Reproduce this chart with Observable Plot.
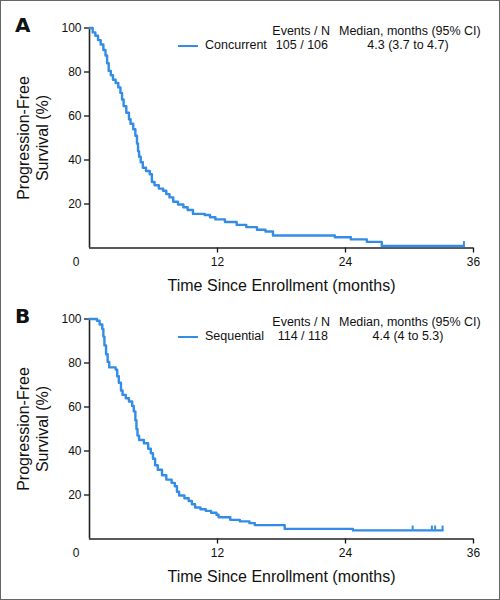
<!DOCTYPE html>
<html><head><meta charset="utf-8">
<script src="https://cdn.jsdelivr.net/npm/d3@7"></script>
<script src="https://cdn.jsdelivr.net/npm/@observablehq/plot@0.6"></script>
<style>
body{margin:0;background:#fff;}
#wrap{position:relative;width:500px;height:600px;box-sizing:border-box;border:1px solid #666;overflow:hidden;font-family:"Liberation Sans",Arial,sans-serif;color:#111;}
.panel{position:absolute;left:-1px;width:500px;}
.letter{position:absolute;left:15px;top:15px;font-family:"DejaVu Sans",sans-serif;font-weight:bold;font-size:20px;line-height:20px;}
.leg{position:absolute;font-size:12.5px;line-height:14px;white-space:nowrap;}
.sw{position:absolute;left:178px;width:20px;height:2.6px;}
</style></head><body><div id="wrap"></div>
<script>
// ---- data ----
const panels = ["A", "B"];
const groups = ["Concurrent", "Sequential"];
const eventsN = ["105 / 106", "114 / 118"];
const medians = ["4.3 (3.7 to 4.7)", "4.4 (4 to 5.3)"];

// Kaplan-Meier step points: time (months), PFS (%)
const concTime = [0,0.3,0.55,0.8,1.05,1.3,1.5,1.65,1.8,2.0,2.2,2.45,2.7,2.9,3.05,3.2,3.45,3.7,3.85,4.1,4.3,4.45,4.55,4.65,4.8,5.0,5.3,5.65,5.85,6.1,6.5,6.9,7.2,7.5,7.85,8.3,8.8,9.2,9.7,10.8,11.3,11.8,12.7,13.8,14.7,15.7,16.5,17.2,23.0,24.5,26.0,27.4,35.1];
const concSurv = [100,98,96.5,94.5,92.5,90,87.5,84,80.5,78.5,76.5,75,73,70.5,67.5,64.5,61.5,58.5,56.5,54,51,47.5,44,41.5,39,36.5,35,33.5,30,28.5,27,26,24.5,23,21,19.8,18.5,17.3,15.5,15,14,13,11.8,10.5,9.5,8.3,7.5,5.7,4.9,3.9,2.8,0.9,0.9];
const concCensor = [35.1];

const seqTime = [0,0.7,0.95,1.2,1.3,1.4,1.55,1.7,1.85,2.45,2.6,2.75,2.95,3.1,3.4,3.7,4.0,4.15,4.3,4.4,4.5,4.65,5.1,5.5,5.75,5.95,6.15,6.4,6.8,7.2,7.7,8.0,8.2,8.4,8.9,9.3,9.6,9.9,10.4,10.9,11.4,11.9,12.1,13.2,14.1,15.0,15.5,18.3,24.7,33.1];
const seqSurv = [100,99.2,97.5,95.5,92,88,84,80.5,78,77,74,71,67.5,65.5,64,62.5,60.5,58,54,50,47,45,43.5,41,39,36.5,33.5,31.5,29,27,25.5,24,21.5,19.8,18.5,17.3,15.8,14.3,13.5,12.8,11.9,11.0,9.9,8.7,8.0,7.2,6.3,4.6,3.9,3.9];
const seqCensor = [30.3, 32.1, 32.4, 33.1];

const xTicks = [12, 24, 36];
const yTicks = [20, 40, 60, 80, 100];
const xLabel = "Time Since Enrollment (months)";
const yLabel = "Progression-Free\nSurvival (%)";
const headEvents = "Events / N";
const headMedian = "Median, months (95% CI)";

const series = [
  {time: concTime, surv: concSurv, censor: concCensor},
  {time: seqTime, surv: seqSurv, censor: seqCensor}
];
const BLUE = "#338ce6";
const FONT = '"Liberation Sans", Arial, sans-serif';
const wrap = document.getElementById("wrap");
const tops = [-1, 290];
const heights = [291, 309];

series.forEach((s, i) => {
  const pts = s.time.map((t, j) => ({t, s: s.surv[j]}));
  const last = pts[pts.length - 1].s;
  const cens = s.censor.map(t => ({t, s: last}));
  const panel = document.createElement("div");
  panel.className = "panel";
  panel.style.top = tops[i] + "px";
  panel.style.height = heights[i] + "px";
  const chart = Plot.plot({
    width: 500, height: heights[i],
    marginLeft: 89, marginRight: 27, marginTop: 27.5, marginBottom: heights[i] - 247.5,
    x: {domain: [0, 36]},
    y: {domain: [0, 100]},
    style: {fontFamily: FONT, fontSize: "12px", color: "#111", background: "transparent", overflow: "visible"},
    marks: [
      Plot.axisY({ticks: yTicks, tickSize: 5, tickPadding: 3, label: null, fontSize: 12, strokeWidth: 1.3}),
      Plot.axisX({ticks: xTicks, tickSize: 5, tickPadding: 4, label: null, fontSize: 12, strokeWidth: 1.3}),
      Plot.text([0], {x: d => d, y: 0, text: d => String(d), dx: -13.5, dy: 14.5, fontSize: 12}),
      Plot.ruleX([0], {stroke: "#222", strokeWidth: 1.6}),
      Plot.ruleY([0], {stroke: "#222", strokeWidth: 1.6}),
      Plot.line(pts, {x: "t", y: "s", curve: "step-after", stroke: BLUE, strokeWidth: 2.4}),
      Plot.ruleX(cens, {x: "t", y1: "s", y2: d => d.s + 2, stroke: BLUE, strokeWidth: 2}),
      Plot.text([xLabel], {frameAnchor: "bottom", dy: 37.5, lineAnchor: "middle", textAnchor: "middle", fontSize: 16}),
      Plot.text([yLabel], {frameAnchor: "left", dx: -57, rotate: -90, textAnchor: "middle", lineAnchor: "middle", lineHeight: 1.2, fontSize: 16})
    ]
  });
  panel.appendChild(chart);

  const add = (cls, txt, css) => {
    const d = document.createElement("div");
    d.className = cls;
    if (txt != null) d.textContent = txt;
    Object.assign(d.style, css);
    panel.appendChild(d);
    return d;
  };
  add("letter", panels[i], {});
  add("leg", headEvents, {right: (500 - 330) + "px", top: "24px"});
  add("leg", headMedian, {left: "339px", top: "24px"});
  add("sw", null, {top: "44.5px", background: BLUE});
  add("leg", groups[i], {left: "205px", top: "38px"});
  add("leg", eventsN[i], {right: (500 - 328) + "px", top: "38px"});
  add("leg", medians[i], {left: "348px", width: "120px", textAlign: "center", top: "38px"});
  wrap.appendChild(panel);
});
</script>
</body></html>
